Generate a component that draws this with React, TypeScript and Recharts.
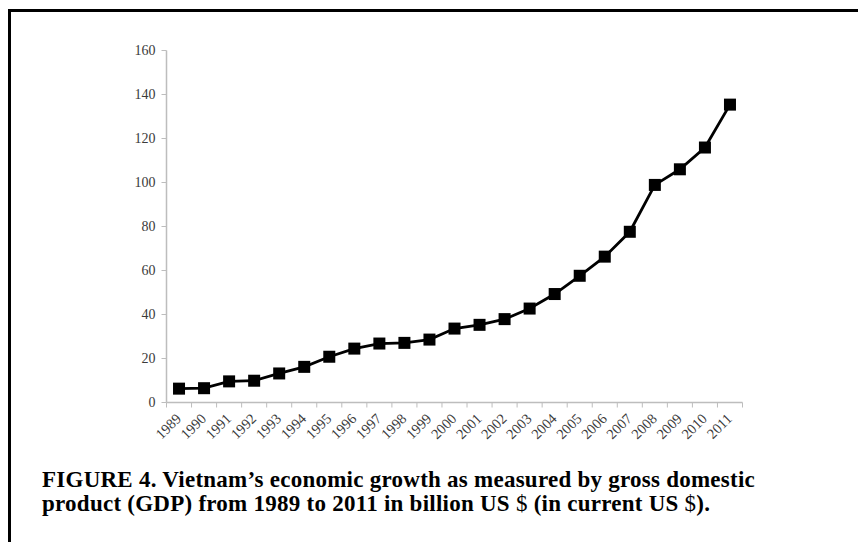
import { LineChart, Line, XAxis, YAxis } from 'recharts';

// GDP of Vietnam, billion US $
const years = [
  '1989', '1990', '1991', '1992', '1993', '1994', '1995', '1996', '1997', '1998', '1999', '2000',
  '2001', '2002', '2003', '2004', '2005', '2006', '2007', '2008', '2009', '2010', '2011',
];
const gdp = [
  6.3, 6.5, 9.6, 9.9, 13.2, 16.2, 20.8, 24.5, 26.8, 27.1, 28.6, 33.6,
  35.3, 37.9, 42.7, 49.3, 57.6, 66.3, 77.6, 98.9, 106.0, 115.9, 135.4,
];
const yTicks = [0, 20, 40, 60, 80, 100, 120, 140, 160];

const AXIS = '#bdbdbd';
const LABEL = '#3a3a3a';
const SERIF = '"Liberation Serif", "Times New Roman", serif';

// each year sits in the middle of its slot, tick marks go on the slot edges
const data = years.map((year, i) => ({ x: i + 0.5, year, gdp: gdp[i] }));
const xTicks: number[] = [];
for (let i = 0; i <= years.length; i++) {
  xTicks.push(i);
  if (i < years.length) xTicks.push(i + 0.5);
}

function XTick(props: any) {
  const { x, y, payload } = props;
  const v = payload.value;
  if (Number.isInteger(v)) {
    return <line x1={x} y1={y} x2={x} y2={y + 5} stroke={AXIS} strokeWidth={1} />;
  }
  const label = years[Math.floor(v)];
  const ax = x + 3;
  const ay = y + 17;
  return (
    <text
      x={ax}
      y={ay}
      transform={`rotate(-45, ${ax}, ${ay})`}
      textAnchor="end"
      fontSize={14.5}
      fontFamily={SERIF}
      fill={LABEL}
    >
      {label}
    </text>
  );
}

function SquareDot(props: any) {
  const { cx, cy } = props;
  if (cx == null || cy == null) return null;
  return <rect x={cx - 6} y={cy - 6} width={12} height={12} fill="#000" />;
}

export default function App() {
  return (
    <div style={{ position: 'fixed', left: 0, top: 0, width: 858, height: 542, overflow: 'hidden', background: '#fff' }}>
      <div
        style={{
          position: 'absolute',
          left: 8,
          top: 9,
          width: 1000,
          height: 700,
          borderTop: '3px solid #000',
          borderLeft: '3px solid #000',
        }}
      />
      <div style={{ position: 'absolute', left: 0, top: 0 }}>
        <LineChart
          width={858}
          height={460}
          data={data}
          margin={{ top: 50.5, right: 115.5, bottom: 12.5, left: 106.5 }}
        >
          <XAxis
            dataKey="x"
            type="number"
            domain={[0, years.length]}
            ticks={xTicks}
            interval={0}
            tickSize={0}
            tickMargin={0}
            tickLine={false}
            axisLine={{ stroke: AXIS, strokeWidth: 1.5 }}
            tick={<XTick />}
            height={45}
          />
          <YAxis
            type="number"
            domain={[0, 160]}
            ticks={yTicks}
            interval={0}
            width={60}
            tickSize={5}
            tickMargin={6}
            tickLine={{ stroke: AXIS }}
            axisLine={{ stroke: AXIS, strokeWidth: 1.5 }}
            tick={{ fontSize: 14, fontFamily: SERIF, fill: LABEL }}
          />
          <Line
            type="linear"
            dataKey="gdp"
            stroke="#000"
            strokeWidth={2.8}
            dot={<SquareDot />}
            activeDot={false}
            isAnimationActive={false}
          />
        </LineChart>
      </div>
      <div
        style={{
          position: 'absolute',
          left: 42,
          top: 468,
          fontFamily: SERIF,
          fontWeight: 'bold',
          fontSize: 23,
          letterSpacing: '0.25px',
          lineHeight: '24px',
          color: '#000',
          whiteSpace: 'nowrap',
        }}
      >
        <div>FIGURE 4. Vietnam’s economic growth as measured by gross domestic</div>
        <div>
          product (GDP) from 1989 to 2011 in billion US <span style={{ fontWeight: 'normal' }}>$</span> (in current US{' '}
          <span style={{ fontWeight: 'normal' }}>$</span>).
        </div>
      </div>
    </div>
  );
}
